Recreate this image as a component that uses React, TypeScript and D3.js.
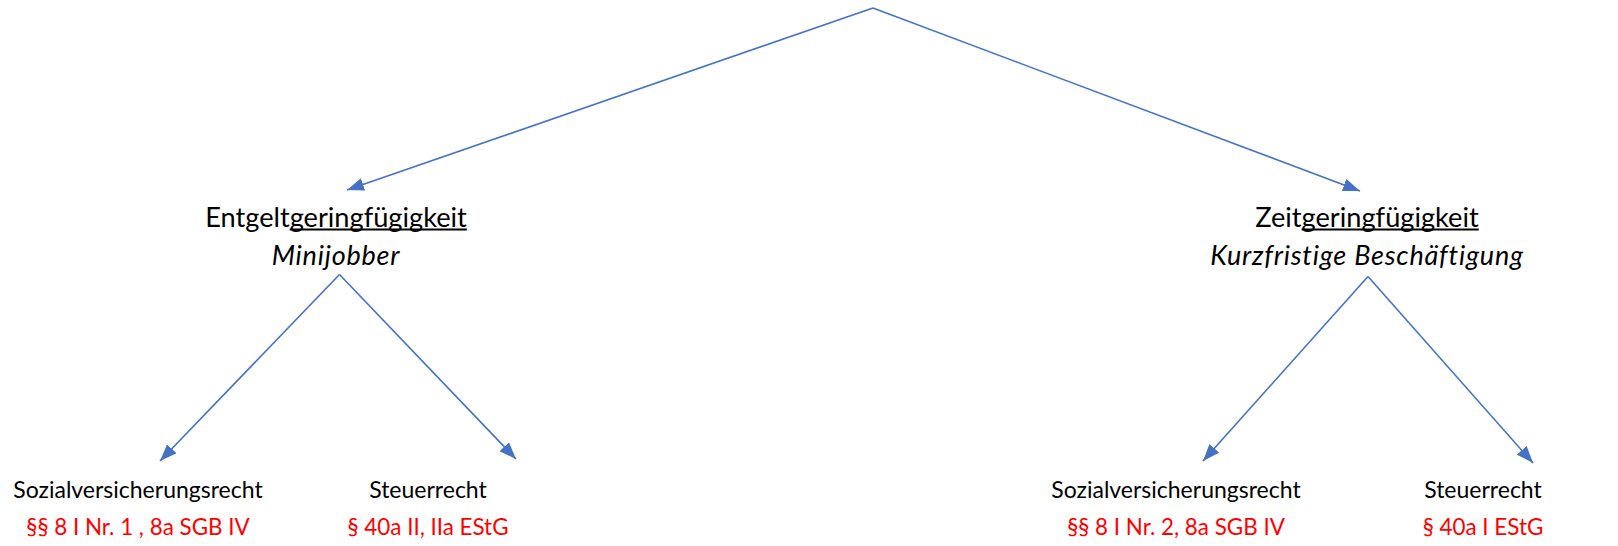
import React, { useEffect, useRef } from "react";
import * as d3 from "d3";

const W = 1618;
const H = 546;

// ---- data: tree structure and labels ----
const nodeIds = ["root", "entgelt", "zeit", "sv1", "st1", "sv2", "st2"];
const parentIds = ["", "root", "root", "entgelt", "entgelt", "zeit", "zeit"];
const titlePlain = ["", "Entgelt", "Zeit", "Sozialversicherungsrecht", "Steuerrecht", "Sozialversicherungsrecht", "Steuerrecht"];
const titleUnderlined = ["", "geringfügigkeit", "geringfügigkeit", "", "", "", ""];
const subtitles = ["", "Minijobber", "Kurzfristige Beschäftigung", "§§ 8 I Nr. 1 , 8a SGB IV", "§ 40a II, IIa EStG", "§§ 8 I Nr. 2, 8a SGB IV", "§ 40a I EStG"];
const subtitleKind = ["", "italic", "italic", "law", "law", "law", "law"];

// ---- layout (positions in px, kept apart from data) ----
const labelX = [873, 336, 1367, 138, 428, 1176, 1483];
const arrowTipX = [873, 347, 1360, 160, 516, 1203, 1533];
const arrowTipY = [8, 190, 191, 461, 459, 461, 463];
const branchX = [873, 339.5, 1368, 0, 0, 0, 0];
const branchY = [8, 274.5, 276.5, 0, 0, 0, 0];
const titleBaseline = [0, 226.7, 226.7, 498.3, 498.3, 498.3, 498.3];
const subBaseline = [0, 265, 265, 535, 535, 535, 535];
const titleSize = [0, 27.2, 27.2, 23, 23, 23, 23];
const subSize = [0, 27, 27, 22.4, 22.4, 22.4, 22.4];

const LINE = "#4472C4";
const RED = "#FF0000";
const FONT = "Lato, 'Open Sans', sans-serif";

export default function App() {
  const ref = useRef<SVGSVGElement | null>(null);

  useEffect(() => {
    const svg = d3.select(ref.current);
    svg.selectAll("*").remove();

    const table = nodeIds.map((id, i) => ({ id, parent: parentIds[i] || null, i }));
    const root = d3.stratify<any>().id((d) => d.id).parentId((d) => d.parent)(table);

    const defs = svg.append("defs");
    defs
      .append("marker")
      .attr("id", "arrow")
      .attr("viewBox", "0 0 17 13")
      .attr("refX", 17)
      .attr("refY", 6.5)
      .attr("markerWidth", 17)
      .attr("markerHeight", 13)
      .attr("markerUnits", "userSpaceOnUse")
      .attr("orient", "auto")
      .append("path")
      .attr("d", "M0,0 L17,6.5 L0,13 Z")
      .attr("fill", LINE);

    // links
    const links = root.links();
    svg
      .append("g")
      .selectAll("line")
      .data(links)
      .join("line")
      .attr("x1", (l: any) => branchX[l.source.data.i])
      .attr("y1", (l: any) => branchY[l.source.data.i])
      .attr("x2", (l: any) => arrowTipX[l.target.data.i])
      .attr("y2", (l: any) => arrowTipY[l.target.data.i])
      .attr("stroke", LINE)
      .attr("stroke-width", 1.6)
      .attr("marker-end", "url(#arrow)");

    // labels
    const nodes = root.descendants().filter((n: any) => n.data.i > 0);
    const g = svg.append("g").attr("font-family", FONT);

    nodes.forEach((n: any) => {
      const i = n.data.i;
      const t = g
        .append("text")
        .attr("x", labelX[i])
        .attr("y", titleBaseline[i])
        .attr("font-size", titleSize[i])
        .attr("text-anchor", "middle")
        .attr("fill", "#000");
      t.append("tspan").text(titlePlain[i]);
      if (titleUnderlined[i]) t.append("tspan").text(titleUnderlined[i]);

      if (titleUnderlined[i]) {
        const el = t.node() as SVGTextElement;
        const startIdx = titlePlain[i].length;
        const endIdx = startIdx + titleUnderlined[i].length - 1;
        const x0 = el.getStartPositionOfChar(startIdx).x;
        const x1 = el.getEndPositionOfChar(endIdx).x;
        g.append("line")
          .attr("x1", x0)
          .attr("x2", x1)
          .attr("y1", titleBaseline[i] + 2.8)
          .attr("y2", titleBaseline[i] + 2.8)
          .attr("stroke", "#000")
          .attr("stroke-width", 1.8);
      }

      const isItalic = subtitleKind[i] === "italic";
      g.append("text")
        .attr("x", labelX[i])
        .attr("y", subBaseline[i])
        .attr("font-size", subSize[i])
        .attr("text-anchor", "middle")
        .attr("font-style", isItalic ? "italic" : "normal")
        .attr("letter-spacing", isItalic ? 0.8 : 0)
        .attr("fill", subtitleKind[i] === "law" ? RED : "#000")
        .text(subtitles[i]);
    });
  }, []);

  return (
    <svg
      ref={ref}
      width={W}
      height={H}
      style={{ position: "absolute", left: 0, top: 0, background: "#fff", display: "block" }}
    />
  );
}
